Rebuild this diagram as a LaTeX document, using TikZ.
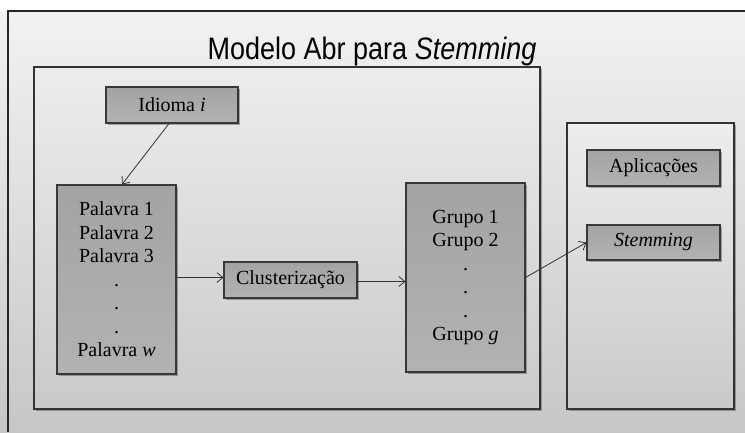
\documentclass[tikz,border=0pt]{standalone}
\usepackage{fontspec}
\setmainfont{Liberation Serif}
\newfontfamily\titlefont{Liberation Sans}
\usetikzlibrary{arrows.meta,shadows}
\begin{document}
\begin{tikzpicture}[x=1pt,y=-1pt,
  frame/.style={draw=black!80, line width=1.2pt, top color=black!7, bottom color=black!21,
    drop shadow={shadow xshift=1.5pt, shadow yshift=-1.5pt, opacity=0.45, fill=black!70}},
  stepbox/.style={draw=black!78, line width=1.1pt, top color=black!36, bottom color=black!30,
    inner sep=0pt, align=center, font=\fontsize{20}{23.5}\selectfont,
    drop shadow={shadow xshift=1.5pt, shadow yshift=-1.5pt, opacity=0.45, fill=black!70}},
  link/.style={draw=black!80, line width=0.8pt, -{Straight Barb[length=6pt,width=10pt]}}]
  % page and background
  \useasboundingbox (0,0) rectangle (745,432);
  \fill[white] (0,0) rectangle (745,432);
  \shade[top color=black!5, bottom color=black!22] (0,11) rectangle (745,432);
  \draw[black!85, line width=1.2pt] (8,432) -- (8,11) -- (745,11);
  % title
  \node[anchor=base, font=\titlefont\fontsize{27}{32}\selectfont] (title) at (372,59)
    {\scalebox{1}[1.15]{Modelo Abr para \textit{Stemming}}};
  % containers
  \path[frame] (34,67) rectangle (540,409);
  \path[frame] (567,123) rectangle (734,409);
  % boxes
  \node[stepbox, minimum width=132pt, minimum height=36pt] (idioma) at (172,105) {Idioma \textit{i}};
  \node[stepbox, minimum width=119pt, minimum height=189pt] (pal) at (116.5,279.5)
    {Palavra 1\\Palavra 2\\Palavra 3\\.\\.\\.\\Palavra \textit{w}};
  \node[stepbox, minimum width=133pt, minimum height=36pt] (clu) at (290.5,280) {Clusterização};
  \node[stepbox, minimum width=119pt, minimum height=189pt] (grp) at (465.5,277.5)
    {Grupo 1\\Grupo 2\\.\\.\\.\\Grupo \textit{g}};
  \node[stepbox, minimum width=133pt, minimum height=36pt] (apl) at (653.5,168) {Aplicações};
  \node[stepbox, minimum width=133pt, minimum height=35pt] (stem) at (653.5,242.5) {\textit{Stemming}};
  % connectors
  \draw[link] ([xshift=-3pt]idioma.south) -- ([xshift=5.5pt]pal.north);
  \draw[link] ([yshift=2pt]pal.east) -- ([yshift=2pt]pal.east -| clu.west);
  \draw[link] ([yshift=-1.5pt]clu.east) -- ([yshift=-1.5pt]clu.east -| grp.west);
  \draw[link] (grp.east) -- (stem.west);
\end{tikzpicture}
\end{document}
